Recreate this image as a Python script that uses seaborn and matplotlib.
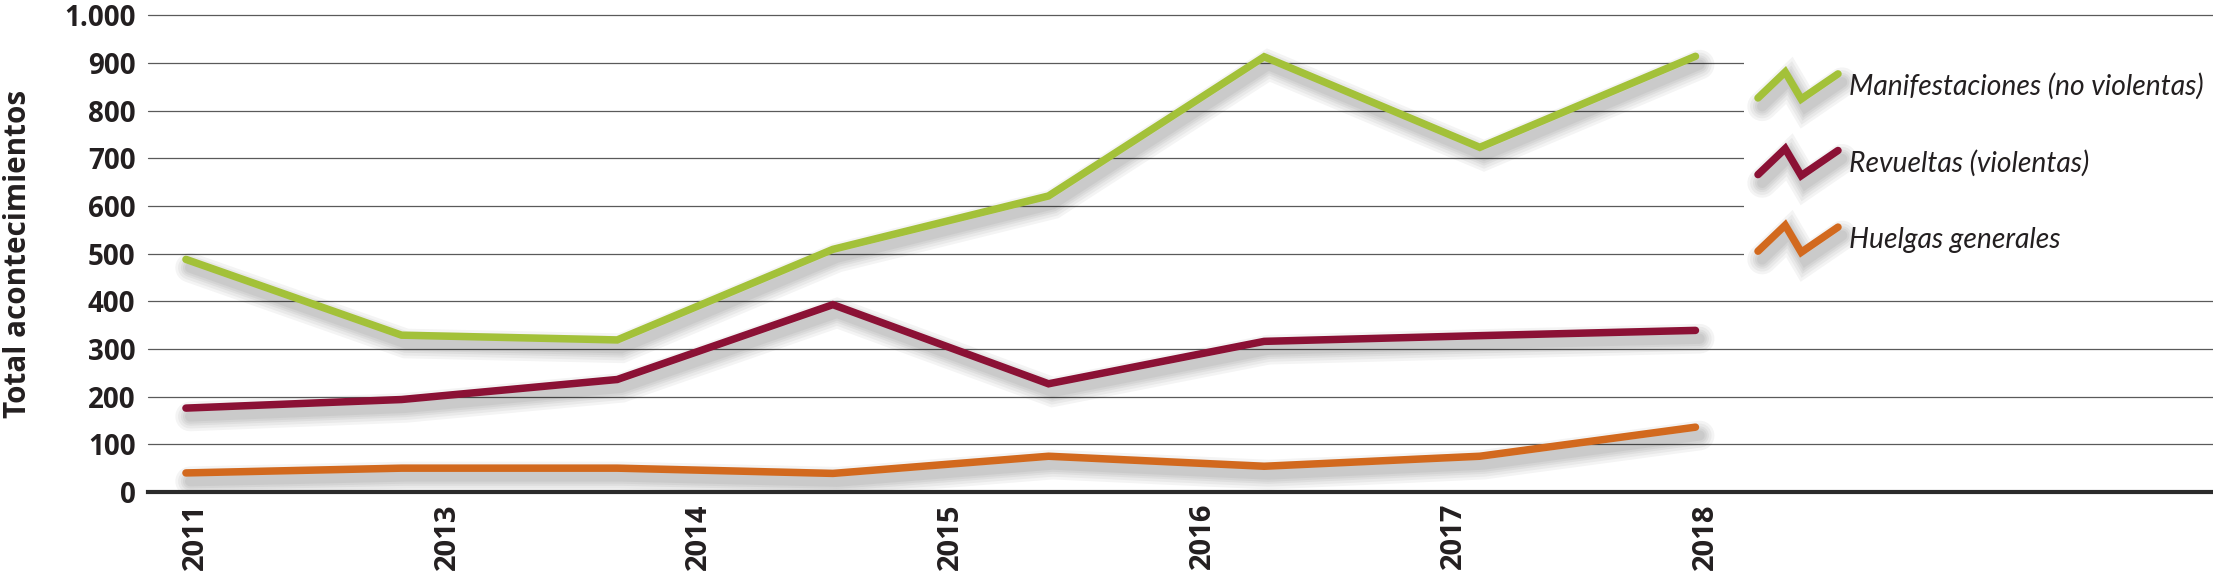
import numpy as np
import pandas as pd
import matplotlib
matplotlib.use("Agg")
import matplotlib.pyplot as plt
import matplotlib.patheffects as pe
from matplotlib.lines import Line2D
from matplotlib.legend_handler import HandlerBase
from matplotlib import font_manager as fm
from matplotlib.ticker import FuncFormatter
import seaborn as sns

# ---------------- data ----------------
years = [2011, 2012, 2013, 2014, 2015, 2016, 2017, 2018]
tick_labels = ["2011", "2013", "2014", "2015", "2016", "2017", "2018"]
manifestaciones = [488, 329, 319, 509, 621, 913, 723, 914]
revueltas = [176, 194, 236, 393, 227, 316, 328, 339]
huelgas = [40, 50, 50, 39, 75, 54, 75, 136]
series_names = ["Manifestaciones (no violentas)", "Revueltas (violentas)", "Huelgas generales"]
colors = ["#A3C139", "#8B1135", "#D2691E"]
y_label = "Total acontecimientos"

# ---------------- style ----------------
sns.set_style("white")
plt.rcParams["font.family"] = ["Open Sans", "DejaVu Sans"]
text_color = "#231F20"

available = {f.name for f in fm.fontManager.ttflist}
legend_family = "Liberation Sans Narrow" if "Liberation Sans Narrow" in available else "Lato"
legend_size = 22.5 if legend_family == "Liberation Sans Narrow" else 20.3

W, H = 2213, 575
fig = plt.figure(figsize=(W / 100, H / 100), dpi=100)
ax = fig.add_axes([148 / W, 1 - 492 / H, 1 - 148 / W, (492 - 15.3) / H])

idx = list(range(len(years)))
df = pd.DataFrame({
    "pos": idx * 3,
    "valor": manifestaciones + revueltas + huelgas,
    "serie": [series_names[0]] * len(idx) + [series_names[1]] * len(idx) + [series_names[2]] * len(idx),
})

lw = 5.4
sns.lineplot(data=df, x="pos", y="valor", hue="serie", hue_order=series_names,
             palette=colors, linewidth=lw, legend=False, ax=ax, zorder=3)

shadow = [pe.SimpleLineShadow(offset=(3, -6), shadow_color="#000000", alpha=0.045,
                              linewidth=lw + k) for k in (16, 12, 8, 5, 2)]
for ln in ax.lines:
    ln.set_solid_capstyle("round")
    ln.set_solid_joinstyle("miter")
    ln.set_path_effects(shadow + [pe.Normal()])

# axes
ax.set_ylim(0, 1000)
ax.set_xlim(-0.176, 9.40)
ax.set_yticks(range(0, 1001, 100))
ax.yaxis.set_major_formatter(FuncFormatter(lambda v, p: f"{int(v):,}".replace(",", ".")))
xt = np.linspace(0, len(years) - 1, len(tick_labels)) + 0.045
ax.set_xticks(xt)
ax.set_xticklabels(tick_labels, rotation=90)
ax.set_xlabel("")
ax.set_ylabel(y_label, fontsize=21.3, fontweight="bold", color=text_color)
ax.yaxis.set_label_coords((33 - 148) / (W - 148), 0.5)

ax.tick_params(axis="y", length=0, pad=9, labelsize=20, labelcolor=text_color)
ax.tick_params(axis="x", length=0, pad=8, labelsize=21, labelcolor=text_color)
for t in ax.get_yticklabels() + ax.get_xticklabels():
    t.set_fontweight("bold")

ax.grid(axis="y", color="#5a5a5a", linewidth=0.9)
ax.grid(axis="x", visible=False)
for gl in ax.get_ygridlines():
    gl.set_clip_on(False)
ax.set_axisbelow(True)
for s in ("top", "right", "left"):
    ax.spines[s].set_visible(False)
ax.spines["bottom"].set_linewidth(3.0)
ax.spines["bottom"].set_color("#2b2b2b")
ax.spines["bottom"].set_zorder(4)


# ---------------- legend with zig-zag keys ----------------
class ZigZagHandler(HandlerBase):
    def create_artists(self, legend, orig_handle, xdescent, ydescent, width, height, fontsize, trans):
        xs = np.array([0.0, 0.34, 0.54, 1.0]) * width - xdescent
        ys = np.array([0.04, 1.0, 0.0, 0.93]) * height - ydescent
        line = Line2D(xs, ys, color=orig_handle.get_color(), linewidth=orig_handle.get_linewidth(),
                      solid_capstyle="round", solid_joinstyle="miter")
        line.set_path_effects(shadow + [pe.Normal()])
        line.set_transform(trans)
        return [line]


fs_px = legend_size * 100 / 72
handles = [Line2D([], [], color=c, linewidth=lw) for c in colors]
leg = ax.legend(handles, series_names, handler_map={Line2D: ZigZagHandler()},
                loc="upper left", bbox_to_anchor=(1744 / W, 1 - 58 / H),
                bbox_transform=fig.transFigure, borderaxespad=0,
                borderpad=14 / fs_px, handlelength=80 / fs_px, handleheight=31 / fs_px,
                handletextpad=0.4, labelspacing=1.72,
                frameon=True, fancybox=False, framealpha=1, facecolor="white", edgecolor="none",
                prop={"family": legend_family, "style": "italic", "size": legend_size})
for t in leg.get_texts():
    t.set_color(text_color)
leg.set_zorder(10)

fig.savefig("out.png", dpi=100)
